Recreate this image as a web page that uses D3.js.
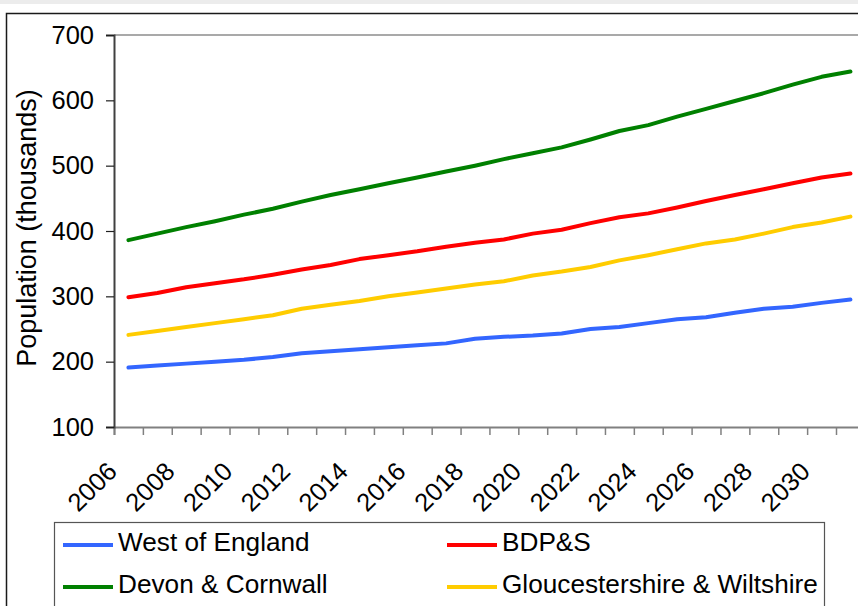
<!DOCTYPE html>
<html>
<head>
<meta charset="utf-8">
<script src="https://cdn.jsdelivr.net/npm/d3@7"></script>
<style>
  html, body { margin: 0; padding: 0; background: #fff; }
  svg { display: block; }
  text { font-family: "Liberation Sans", Arial, sans-serif; fill: #000; }
</style>
</head>
<body>
<svg id="chart" width="858" height="606"></svg>
<script>
// ---- data ----
const years = d3.range(2006, 2032);
const yearLabels = [2006, 2008, 2010, 2012, 2014, 2016, 2018, 2020, 2022, 2024, 2026, 2028, 2030];
const yTicks = [100, 200, 300, 400, 500, 600, 700];

const westOfEngland = [191, 194, 197, 200, 203, 207, 213, 216, 219, 222, 225, 228, 235, 238, 240, 243, 250, 253, 259, 265, 268, 275, 281, 284, 290, 295];
const bdps = [298.5, 305, 314, 320, 326, 333, 341, 348, 357, 363, 369, 376, 382, 387, 396, 402, 412, 421, 427, 436, 446, 455, 464, 473, 482, 488];
const devonCornwall = [386, 396, 406, 415, 425, 434, 445, 455, 464, 473, 482, 491, 500, 510, 519, 528, 540, 553, 562, 575, 587, 599, 611, 624, 636, 644];
const glosWilts = [241, 247, 253, 259, 265, 271, 281, 287, 293, 300, 306, 312, 318, 323, 332, 338, 345, 355, 363, 372, 381, 387, 396, 406, 413, 422];

const seriesNames = ["West of England", "BDP&S", "Devon & Cornwall", "Gloucestershire & Wiltshire"];
const seriesValues = [westOfEngland, bdps, devonCornwall, glosWilts];
const seriesColors = ["#3366FF", "#FF0000", "#008000", "#FFCC00"];

// ---- layout ----
const svg = d3.select("#chart");
const plot = { left: 114, top: 35, bottom: 427, step: 28.88 };
plot.right = plot.left + years.length * plot.step;

// top grey band and outer frame
svg.append("rect").attr("x", 0).attr("y", 0).attr("width", 858).attr("height", 4).attr("fill", "#ececec");
svg.append("rect").attr("x", 6.5).attr("y", 13.5).attr("width", 900).attr("height", 700)
  .attr("fill", "none").attr("stroke", "#1a1a1a").attr("stroke-width", 1.5);

const x = d3.scaleBand().domain(years).range([plot.left, plot.right]).padding(0);
const xIdx = d3.scaleLinear().domain([0, years.length]).range([plot.left, plot.right]);
const y = d3.scaleLinear().domain([100, 700]).range([plot.bottom, plot.top]);

// plot area top border
svg.append("line").attr("x1", plot.left).attr("x2", plot.right)
  .attr("y1", y(700)).attr("y2", y(700)).attr("stroke", "#8c8c8c").attr("stroke-width", 1.5);

// x axis (ticks between categories)
const gx = svg.append("g").attr("transform", `translate(0,${plot.bottom})`)
  .call(d3.axisBottom(xIdx).tickValues(d3.range(0, years.length + 1)).tickSize(8).tickFormat(""));
gx.select(".domain").attr("stroke", "#808080").attr("stroke-width", 2);
gx.selectAll(".tick line").attr("stroke", "#808080").attr("stroke-width", 1.5);

// x labels
svg.append("g").selectAll("text").data(yearLabels).join("text")
  .attr("transform", d => `translate(${x(d) + x.bandwidth() / 2 - 10},473) rotate(-45)`)
  .attr("text-anchor", "end")
  .style("font-size", "25.5px")
  .text(d => d);

// y axis
const gy = svg.append("g").attr("transform", `translate(${plot.left},0)`)
  .call(d3.axisLeft(y).tickValues(yTicks).tickSize(8).tickPadding(12).tickFormat(d3.format("d")));
gy.select(".domain").attr("stroke", "#404040").attr("stroke-width", 2);
gy.selectAll(".tick line").attr("stroke", "#202020").attr("stroke-width", 1.2);
gy.selectAll(".tick text").style("font-size", "25.5px").attr("fill", "#000")
  .style("font-family", "'Liberation Sans', Arial, sans-serif");

// y title
svg.append("text")
  .attr("transform", `translate(36,228) rotate(-90)`)
  .attr("text-anchor", "middle")
  .style("font-size", "27px")
  .text("Population (thousands)");

// lines
const line = d3.line()
  .x((d, i) => x(years[i]) + x.bandwidth() / 2)
  .y(d => y(d));

svg.append("g").selectAll("path").data(seriesValues).join("path")
  .attr("d", d => line(d))
  .attr("fill", "none")
  .attr("stroke", (d, i) => seriesColors[i])
  .attr("stroke-width", 4)
  .attr("stroke-linejoin", "round")
  .attr("stroke-linecap", "round");

// legend
const lg = svg.append("g");
lg.append("rect").attr("x", 54.5).attr("y", 522.5).attr("width", 770).attr("height", 200)
  .attr("fill", "#fff").attr("stroke", "#555").attr("stroke-width", 1.2);
const legendPos = [
  { lx: 63, ty: 551, ly: 545 },
  { lx: 447, ty: 551, ly: 545 },
  { lx: 63, ty: 593, ly: 587 },
  { lx: 447, ty: 593, ly: 587 }
];
seriesNames.forEach((name, i) => {
  const p = legendPos[i];
  lg.append("line").attr("x1", p.lx).attr("x2", p.lx + 50).attr("y1", p.ly).attr("y2", p.ly)
    .attr("stroke", seriesColors[i]).attr("stroke-width", 4);
  lg.append("text").attr("x", p.lx + 55).attr("y", p.ty).style("font-size", "26.2px").text(name);
});
</script>
</body>
</html>
